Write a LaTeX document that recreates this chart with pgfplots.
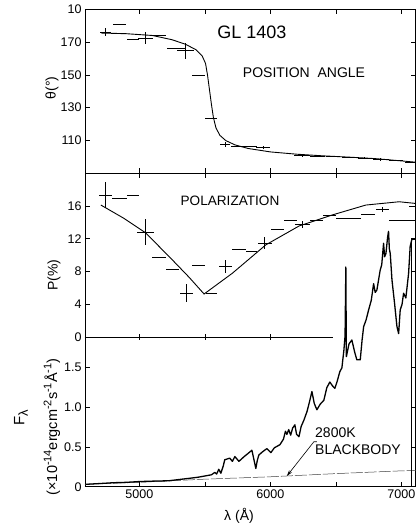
\documentclass[border=0pt]{standalone}
\usepackage{fontspec}
\setmainfont{Liberation Sans}
\usepackage{pgfplots}
\pgfplotsset{compat=1.18}
\usetikzlibrary{arrows.meta}
\newcommand{\sups}[1]{\raisebox{0.75ex}{\fontsize{11}{12}\selectfont #1}}
\pgfplotsset{
  panel/.style={
    scale only axis, width=330.8pt, xmin=4585, xmax=7110,
    anchor=south west,
    axis line style={line width=0.8pt, black},
    tick style={line width=0.7pt, black},
    major tick length=5pt, tick align=inside,
    ticklabel style={font=\fontsize{12.5}{14}\selectfont},
    /pgf/number format/assume math mode=true,
  },
  ebar/.style={only marks, mark=*, mark size=0pt, mark options={draw=none, fill=none}, black,
    error bars/.cd, x dir=both, x explicit, y dir=both, y explicit,
    error mark=none, error bar style={line width=0.85pt, black, solid}},
}
\begin{document}
\begin{tikzpicture}
\useasboundingbox (0pt,0pt) rectangle (416pt,523pt);
% ---------------- top panel: position angle
\begin{axis}[panel, at={(85pt,350pt)}, height=163.5pt, ymin=90, ymax=190,
  ytick={110,130,150,170,190}, yticklabels={110,130,150,170,10},
  xtick={5000,5500,...,7000}, xticklabels={}]
\addplot[black, line width=0.9pt] coordinates {
 (4710,175.6) (4900,175.2) (5100,174.1) (5250,171.5) (5350,168.8) (5430,165.5)
 (5480,161.5) (5505,157) (5520,150) (5535,141) (5550,132) (5565,124)
 (5585,117.5) (5615,113) (5660,109.8) (5730,107.2) (5830,105) (6000,102.9)
 (6200,101.5) (6400,100.5) (6600,99.7) (6800,98.8) (7000,97.4) (7110,96.6)};
\addplot[ebar] coordinates {
 (4743,176.1) +- (40,2.3)
 (4845,180.6) +- (50,0)
 (4953,171.4) +- (45,0)
 (5048,172.4) +- (57,3.8)
 (5150,173.9) +- (50,0)
 (5283,166.0) +- (70,0)
 (5353,164.8) +- (65,4.8)
 (5449,149.5) +- (50,0)
 (5546,123.5) +- (48,0)
 (5654,107.6) +- (40,1.5)
 (5799,106.3) +- (100,0)
 (5944,105.7) +- (55,1.0)
 (6244,100.6) +- (60,0.8)
 (6360,100.2) +- (55,0)
 (6480,100.0) +- (55,0)
 (6600,99.8) +- (55,0)
 (6720,99.1) +- (55,0.7)
 (6842,98.2) +- (60,0.7)
 (6960,97.6) +- (55,0)
 (7070,96.3) +- (40,0)};
\end{axis}
% ---------------- middle panel: polarization
\begin{axis}[panel, at={(85pt,185.7pt)}, height=164.3pt, ymin=0, ymax=20,
  ytick={0,4,8,12,16}, hide x axis, clip=false]
\addplot[black, line width=0.8pt] coordinates {(4585,0) (6480,0)};
\addplot[only marks, mark=|, mark size=3pt, mark options={line width=0.7pt, black}]
  coordinates {(5000,0) (5500,0) (6000,0)};
\addplot[black, line width=0.9pt] coordinates {
 (4706,16.1) (4880,14.5) (5049,12.7) (5253,9.4) (5380,7.3) (5494,5.27)
 (5710,7.8) (5965,11.25) (6219,13.55) (6474,14.9) (6729,16.1) (6983,16.5) (7105,16.3)};
\addplot[ebar] coordinates {
 (4743,17.3) +- (50,1.6)
 (4849,16.9) +- (57,0)
 (4952,17.3) +- (46,0)
 (5049,12.8) +- (65,1.6)
 (5150,9.7) +- (53,0)
 (5253,8.3) +- (50,0)
 (5359,5.4) +- (50,1.1)
 (5452,8.7) +- (50,0)
 (5551,5.4) +- (42,0)
 (5660,8.6) +- (50,0.8)
 (5762,10.75) +- (53,0)
 (5857,10.4) +- (42,0)
 (5957,11.45) +- (53,0.7)
 (6055,13.15) +- (50,0)
 (6154,14.2) +- (50,0)
 (6244,13.7) +- (57,0.4)
 (6353,14.2) +- (50,0)
 (6452,14.8) +- (50,0)
 (6548,14.5) +- (46,0)
 (6642,14.5) +- (50,0)
 (6745,15.0) +- (53,0)
 (6855,15.6) +- (50,0.3)
 (7005,14.2) +- (100,0)
 (7085,15.9) +- (25,0)};
\end{axis}
% ---------------- bottom panel: flux
\begin{axis}[panel, at={(85pt,36.3pt)}, height=313.7pt, ymin=0, ymax=3.956,
  ytick={0,0.5,1,1.5}, yticklabels={0,0.5,1.0,1.5},
  xtick={5000,5500,...,7000}, xticklabels={5000,{},6000,{},7000}]
\addplot[black!75, line width=0.5pt, dash pattern=on 12pt off 2pt] coordinates {
 (4585,0.03) (5000,0.055) (5500,0.095) (6000,0.125) (6500,0.165) (7000,0.2) (7110,0.205)};
\addplot[black, line width=1.3pt, line join=round] coordinates {
 (4590,0.03) (4700,0.04) (4800,0.05) (4900,0.055) (5000,0.065) (5100,0.07)
 (5225,0.075) (5300,0.09) (5378,0.105) (5450,0.12) (5500,0.135) (5550,0.15)
 (5576,0.18) (5590,0.16) (5606,0.22) (5622,0.17) (5640,0.26) (5652,0.34)
 (5690,0.36) (5710,0.32) (5729,0.38) (5760,0.32) (5800,0.38) (5830,0.42)
 (5859,0.46) (5872,0.36) (5889,0.23) (5900,0.33) (5912,0.40) (5940,0.44)
 (5973,0.48) (6004,0.43) (6030,0.49) (6073,0.53) (6100,0.60) (6115,0.70)
 (6126,0.66) (6140,0.72) (6155,0.65) (6170,0.74) (6187,0.78) (6200,0.66)
 (6218,0.63) (6235,0.76) (6256,0.84) (6280,0.95) (6300,1.08) (6317,1.20)
 (6335,1.05) (6355,0.97) (6380,1.04) (6408,1.09) (6431,1.25) (6454,1.32)
 (6475,1.27) (6492,1.24) (6510,1.33) (6530,1.45) (6546,1.50) (6561,1.72)
 (6570,1.90) (6576,2.77) (6580,1.64) (6600,1.80) (6622,1.85) (6643,1.70)
 (6660,1.60) (6686,1.60) (6700,1.85) (6712,2.02) (6730,2.10) (6750,2.23)
 (6770,2.35) (6788,2.56) (6800,2.45) (6813,2.48) (6825,2.60) (6838,2.73)
 (6850,2.80) (6864,3.07) (6872,2.90) (6882,2.94) (6895,3.15) (6902,3.22)
 (6908,3.00) (6915,2.94) (6928,2.61) (6948,2.31) (6966,2.02) (6979,1.93)
 (6991,2.23) (7005,2.30) (7017,2.44) (7034,2.38) (7055,2.69) (7067,3.03)
 (7080,3.12) (7110,3.12)};
\addplot[black, line width=0.9pt] coordinates {(7080,3.12) (7080,0)};
\draw[line width=0.6pt, -{Stealth[length=6pt,width=3.5pt]}]
  (axis cs:6355,0.567) -- (axis cs:6332,0.567) -- (axis cs:6126,0.135);
\end{axis}
% ---------------- text
\node[font=\fontsize{18}{20}\selectfont] at (252pt,491pt) {GL 1403};
\node[font=\fontsize{14}{16}\selectfont] at (304pt,450.5pt) {POSITION\ \ ANGLE};
\node[font=\fontsize{13.6}{16}\selectfont] at (230pt,322.5pt) {POLARIZATION};
\node[font=\fontsize{14}{16}\selectfont, anchor=west, inner sep=0pt] at (315pt,90.5pt) {2800K};
\node[font=\fontsize{14}{16}\selectfont, anchor=west, inner sep=0pt] at (315pt,73pt) {BLACKBODY};
\node[font=\fontsize{14}{16}\selectfont, rotate=90] at (52pt,435pt) {θ(°)};
\node[font=\fontsize{14}{16}\selectfont, rotate=90] at (54pt,248pt) {P(\%)};
\node[font=\fontsize{15}{16}\selectfont, rotate=90] at (21pt,105pt)
  {F\raisebox{-0.45ex}{\fontsize{13}{14}\selectfont λ}};
\node[font=\fontsize{14.5}{16}\selectfont, rotate=90] at (52pt,96pt)
  {(×10\sups{-14}ergcm\sups{-2}s\sups{-1}Å\sups{-1})};
\node[font=\fontsize{14}{16}\selectfont] at (239pt,7pt) {λ (Å)};
\end{tikzpicture}
\end{document}
